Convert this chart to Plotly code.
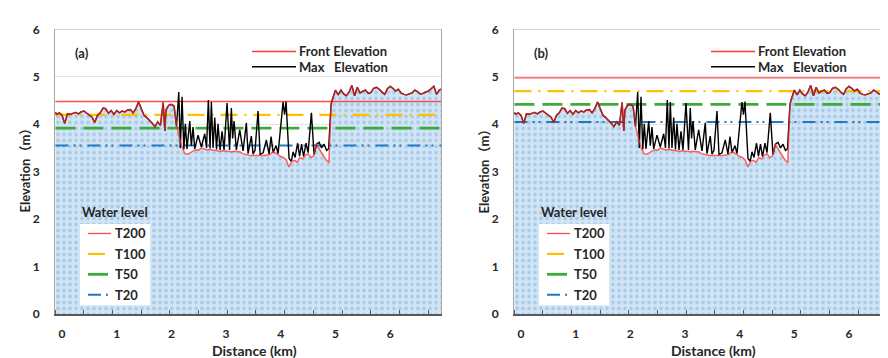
import plotly.graph_objects as go

# ---------------- data ----------------
distance_km = [-0.12, -0.10, -0.05, 0.00, 0.05, 0.10, 0.15, 0.20, 0.25, 0.30, 0.35, 0.40, 0.45,
               0.50, 0.55, 0.60, 0.65, 0.70, 0.75, 0.80, 0.85, 0.90, 0.95, 1.00, 1.05, 1.10,
               1.15, 1.20, 1.25, 1.30, 1.35, 1.40, 1.45, 1.50, 1.55, 1.60, 1.65, 1.70, 1.75,
               1.80, 1.85, 1.88, 1.90, 1.95, 2.00, 2.05, 2.10, 2.15, 2.20, 2.25, 2.30, 2.35,
               2.40, 2.45, 2.50, 2.55, 2.60, 2.65, 2.70, 2.75, 2.80, 2.85, 2.90, 2.95, 3.00,
               3.05, 3.10, 3.15, 3.20, 3.25, 3.30, 3.35, 3.40, 3.45, 3.50, 3.55, 3.60, 3.65,
               3.70, 3.75, 3.80, 3.85, 3.90, 3.95, 4.00, 4.05, 4.10, 4.15, 4.20, 4.25, 4.30,
               4.35, 4.40, 4.45, 4.50, 4.55, 4.60, 4.65, 4.70, 4.75, 4.80, 4.85, 4.88, 4.92,
               4.95, 5.00, 5.05, 5.10, 5.15, 5.20, 5.25, 5.30, 5.35, 5.40, 5.45, 5.50, 5.55,
               5.60, 5.65, 5.70, 5.75, 5.80, 5.85, 5.90, 5.95, 6.00, 6.05, 6.10, 6.15, 6.20,
               6.25, 6.30, 6.35, 6.40, 6.45, 6.50, 6.55, 6.60, 6.65, 6.70, 6.75, 6.80, 6.85,
               6.90, 6.93]
front_elev = [4.25, 4.21, 4.24, 4.19, 4.02, 4.22, 4.21, 4.23, 4.25, 4.22, 4.26, 4.28, 4.23,
              4.19, 4.15, 4.04, 4.19, 4.24, 4.34, 4.33, 4.23, 4.29, 4.21, 4.29, 4.24, 4.28,
              4.26, 4.30, 4.31, 4.24, 4.33, 4.47, 4.31, 4.19, 4.14, 4.09, 4.02, 3.95, 4.05,
              3.98, 4.46, 3.86, 4.30, 4.40, 4.42, 4.38, 3.95, 3.70, 3.50, 3.38, 3.37, 3.40,
              3.44, 3.46, 3.45, 3.50, 3.48, 3.46, 3.47, 3.46, 3.44, 3.43, 3.43, 3.44, 3.43,
              3.43, 3.42, 3.43, 3.43, 3.42, 3.38, 3.36, 3.35, 3.34, 3.34, 3.34, 3.33, 3.34,
              3.34, 3.35, 3.36, 3.42, 3.40, 3.36, 3.32, 3.30, 3.25, 3.10, 3.22, 3.24, 3.20,
              3.30, 3.27, 3.35, 3.38, 3.30, 3.33, 3.58, 3.48, 3.40, 3.30, 3.22, 3.20, 4.42,
              4.55, 4.72, 4.62, 4.72, 4.64, 4.60, 4.68, 4.82, 4.60, 4.78, 4.66, 4.70, 4.72,
              4.65, 4.67, 4.76, 4.78, 4.74, 4.68, 4.63, 4.75, 4.80, 4.76, 4.70, 4.74, 4.66,
              4.63, 4.62, 4.64, 4.66, 4.72, 4.69, 4.64, 4.65, 4.68, 4.70, 4.75, 4.80, 4.63,
              4.72, 4.74]
# Max elevation differs from the front elevation only in the low middle stretch
max_mid_km = [2.094, 2.135, 2.164, 2.195, 2.228, 2.255, 2.286, 2.336, 2.365, 2.396, 2.427,
              2.488, 2.548, 2.610, 2.643, 2.676, 2.707, 2.731, 2.762, 2.793, 2.826, 2.853,
              2.890, 2.927, 2.963, 3.018, 3.064, 3.097, 3.120, 3.146, 3.188, 3.250, 3.311,
              3.371, 3.402, 3.462, 3.494, 3.530, 3.585, 3.622, 3.677, 3.737, 3.786, 3.823,
              3.860, 3.914, 3.951, 4.042, 4.070, 4.097, 4.152, 4.194, 4.225, 4.262, 4.308,
              4.344, 4.381, 4.417, 4.463, 4.500, 4.560, 4.609, 4.655, 4.701, 4.747, 4.792,
              4.838, 4.875]
max_mid_elev = [3.95, 4.68, 3.50, 4.58, 3.47, 4.01, 3.48, 4.07, 3.55, 3.94, 3.48,
                3.77, 3.52, 3.80, 3.50, 4.51, 3.49, 4.47, 3.50, 4.14, 3.47, 4.01,
                3.46, 3.85, 3.46, 4.45, 3.46, 4.34, 3.70, 4.07, 3.46, 3.88, 3.44,
                4.03, 3.38, 3.75, 3.37, 3.45, 4.28, 3.36, 3.40, 3.67, 3.37, 3.74,
                3.40, 3.55, 3.38, 4.47, 4.20, 4.48, 3.28, 3.22, 3.42, 3.30, 3.60,
                3.33, 3.58, 3.32, 3.60, 3.40, 4.24, 3.36, 3.58, 3.62, 3.50, 3.58,
                3.45, 3.48]

water_names = ["T200", "T100", "T50", "T20"]
levels_a = [4.48, 4.20, 3.92, 3.55]
levels_b = [4.98, 4.70, 4.42, 4.05]
x_ticks = [0, 1, 2, 3, 4, 5, 6]
y_ticks = [0, 1, 2, 3, 4, 5, 6]
panel_labels = ["(a)", "(b)"]

# max elevation = front elevation outside the middle stretch
max_km = ([d for d in distance_km if d <= 2.05] + max_mid_km +
          [d for d in distance_km if d >= 4.92])
max_elev = ([e for d, e in zip(distance_km, front_elev) if d <= 2.05] + max_mid_elev +
            [e for d, e in zip(distance_km, front_elev) if d >= 4.92])

# ---------------- styles ----------------
W, H = 888, 358
FONT = "Lato, 'Noto Sans CJK SC', sans-serif"
TXT = "#262626"
water_colors = ["#FF4B4B", "#FFC000", "#3DAA3D", "#1E78C8"]
water_dashes = ["solid", "17px,7px,2px,7px", "20px,8px", "13px,5px,2px,4px,2px,6px"]
water_widths = [1.3, 2.2, 2.8, 2.0]


def px(x):
    return x / W


def py(y):
    return 1 - y / H


fig = go.Figure()

panels = [("x", "y", levels_a), ("x2", "y2", levels_b)]
for xa, ya, levels in panels:
    # terrain fill
    fig.add_trace(go.Scatter(
        x=distance_km, y=front_elev, xaxis=xa, yaxis=ya, mode="lines",
        line=dict(width=0), fill="tozeroy",
        fillpattern=dict(shape=".", bgcolor="#D2E5F5", fgcolor="#A4C9E9",
                         size=6, solidity=0.3, fillmode="replace"),
        showlegend=False, hoverinfo="skip"))
    # water levels
    for name, lv, c, d, w in zip(water_names, levels, water_colors, water_dashes, water_widths):
        fig.add_trace(go.Scatter(
            x=[distance_km[0], distance_km[-1]], y=[lv, lv], xaxis=xa, yaxis=ya,
            mode="lines", line=dict(color=c, dash=d, width=w), name=name,
            showlegend=False))
    # max elevation
    fig.add_trace(go.Scatter(
        x=max_km, y=max_elev, xaxis=xa, yaxis=ya, mode="lines",
        line=dict(color="#000000", width=1.4), name="Max Elevation", showlegend=False))
    # front elevation
    fig.add_trace(go.Scatter(
        x=distance_km, y=front_elev, xaxis=xa, yaxis=ya, mode="lines",
        line=dict(color="#FF2A2A", width=1.5), opacity=0.72,
        name="Front Elevation", showlegend=False))

ydom = [py(311), py(14)]
tickfont = dict(family=FONT, size=12, color=TXT, weight="bold")


def xaxis_cfg(dom, rng, anchor):
    return dict(domain=dom, range=rng, anchor=anchor, tickvals=x_ticks, ticks="",
                showgrid=False, zeroline=False, showline=True, linecolor="#595959",
                linewidth=1.5, tickfont=tickfont, ticklabelstandoff=8,
                minor=dict(ticks="inside", ticklen=4, tickcolor="#595959",
                           tickmode="linear", tick0=-0.128, dtick=0.525, showgrid=False))


def yaxis_cfg(anchor, mirror):
    return dict(domain=ydom, range=[0, 6], tickvals=y_ticks, anchor=anchor,
                showgrid=True, gridcolor="#E3E3E3", zeroline=False, showline=True,
                linecolor="#A6A6A6", linewidth=1, mirror=mirror, ticks="",
                tickfont=tickfont, ticklabelstandoff=12)


fig.update_layout(
    width=W, height=H, margin=dict(l=0, r=0, t=0, b=0),
    paper_bgcolor="white", plot_bgcolor="white", showlegend=False,
    xaxis=xaxis_cfg([px(47), px(433)], [-0.128, 6.93], "y"),
    xaxis2=xaxis_cfg([px(506), 1.0], [-0.128, 6.86], "y2"),
    yaxis=yaxis_cfg("x", True),
    yaxis2=yaxis_cfg("x2", False),
)

shapes = []
annotations = []

# top borders
for xr, yr in [("x domain", "y domain"), ("x2 domain", "y2 domain")]:
    shapes.append(dict(type="line", xref=xr, yref=yr, x0=0, x1=1, y0=1, y1=1,
                       line=dict(color="#D0D0D0", width=1), layer="above"))


def bold(s):
    return dict(family=FONT, size=s, color=TXT, weight="bold")


for i, off in enumerate([0, 459]):
    # panel label
    annotations.append(dict(text="<b>%s</b>" % panel_labels[i], x=px(65 + off), y=py(39),
                            xref="paper", yref="paper", xanchor="left", yanchor="middle",
                            showarrow=False, font=bold(13)))
    # Front / Max legend
    for nm, col, yy in [("Front Elevation", "#FF3A3A", 37),
                        ("Max\u00a0\u00a0\u00a0Elevation", "#000000", 53)]:
        shapes.append(dict(type="line", xref="paper", yref="paper",
                           x0=px(244 + off), x1=px(288 + off), y0=py(yy), y1=py(yy),
                           line=dict(color=col, width=1.5)))
        annotations.append(dict(text="<b>%s</b>" % nm, x=px(289 + off), y=py(yy),
                                xref="paper", yref="paper", xanchor="left",
                                yanchor="middle", showarrow=False, font=bold(13)))
    # water level legend
    annotations.append(dict(text="<b>Water level</b>", x=px(72 + off), y=py(205),
                            xref="paper", yref="paper", xanchor="left", yanchor="middle",
                            showarrow=False, font=bold(13)))
    shapes.append(dict(type="rect", xref="paper", yref="paper", x0=px(72 + off),
                       x1=px(142 + off), y0=py(302), y1=py(217),
                       fillcolor="white", line=dict(width=0), layer="above"))
    for k, (nm, c, d, w) in enumerate(zip(water_names, water_colors, water_dashes, water_widths)):
        yy = 227 + k * 21.3
        shapes.append(dict(type="line", xref="paper", yref="paper", x0=px(80 + off),
                           x1=px(103 + off), y0=py(yy), y1=py(yy),
                           line=dict(color=c, dash=d, width=w), layer="above"))
        annotations.append(dict(text="<b>%s</b>" % nm, x=px(105 + off), y=py(yy),
                                xref="paper", yref="paper", xanchor="left",
                                yanchor="middle", showarrow=False, font=bold(13)))
    # axis titles
    annotations.append(dict(text="<b>Distance (km)</b>", x=px(246 + off), y=py(349),
                            xref="paper", yref="paper", xanchor="center", yanchor="middle",
                            showarrow=False, font=bold(14)))
    annotations.append(dict(text="<b>Elevation（m）</b>", x=px(17 + off), y=py(158),
                            xref="paper", yref="paper", xanchor="center", yanchor="middle",
                            textangle=-90, showarrow=False, font=bold(13)))

fig.update_layout(shapes=shapes, annotations=annotations)
fig.write_html("out.html")
